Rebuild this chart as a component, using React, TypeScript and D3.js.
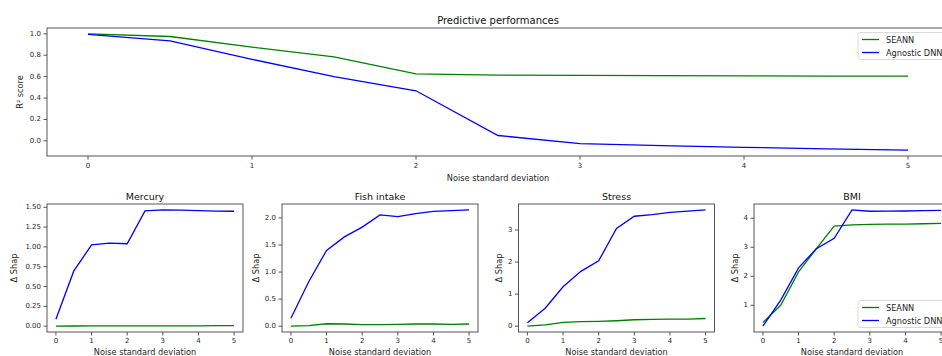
import * as React from 'react'
import { useEffect, useRef } from 'react'
import * as d3 from 'd3'

const noise = [0, 0.5, 1, 1.5, 2, 2.5, 3, 3.5, 4, 4.5, 5]
const xTicks = [0, 1, 2, 3, 4, 5]

// predictive performance (R² score)
const seannR2 = [1.0, 0.975, 0.875, 0.785, 0.625, 0.615, 0.612, 0.609, 0.607, 0.605, 0.604]
const dnnR2 = [0.995, 0.935, 0.762, 0.6, 0.468, 0.05, -0.025, -0.045, -0.06, -0.075, -0.087]

// Δ Shap per feature
const mercurySeann = [0.0, 0.002, 0.003, 0.003, 0.003, 0.004, 0.005, 0.005, 0.005, 0.006, 0.007]
const mercuryDnn = [0.088, 0.694, 1.025, 1.048, 1.04, 1.455, 1.468, 1.465, 1.458, 1.452, 1.45]
const fishSeann = [0.0, 0.01, 0.045, 0.04, 0.03, 0.03, 0.035, 0.04, 0.04, 0.035, 0.04]
const fishDnn = [0.147, 0.82, 1.4, 1.65, 1.83, 2.055, 2.025, 2.08, 2.12, 2.135, 2.15]
const stressSeann = [0.0, 0.04, 0.12, 0.14, 0.15, 0.17, 0.2, 0.21, 0.22, 0.22, 0.24]
const stressDnn = [0.11, 0.56, 1.23, 1.71, 2.04, 3.05, 3.43, 3.48, 3.55, 3.59, 3.63]
const bmiSeann = [0.41, 1.0, 2.15, 2.95, 3.73, 3.77, 3.79, 3.795, 3.8, 3.81, 3.82]
const bmiDnn = [0.28, 1.18, 2.29, 2.95, 3.31, 4.29, 4.24, 4.245, 4.25, 4.26, 4.27]

const seriesNames = ['SEANN', 'Agnostic DNN']
const seriesColors = ['#008000', '#0000ff']

const FONT = 'DejaVu Sans, sans-serif'

interface PanelSpec {
  title: string
  ylabel: string
  left: number
  top: number
  width: number
  height: number
  series: number[][]
  yTicks: number[]
  yFormat: string
  xlabelOffset: number
  tickLabelOffset: number
  legend?: { x: number; y: number }
  titleSize: number
  ylabelX: number
}

const panels: PanelSpec[] = [
  {
    title: 'Predictive performances', ylabel: 'R² score',
    left: 47, top: 28, width: 902, height: 128,
    series: [seannR2, dnnR2], yTicks: [0, 0.2, 0.4, 0.6, 0.8, 1.0], yFormat: '.1f',
    xlabelOffset: 22, tickLabelOffset: 10, legend: { x: 858, y: 32.5 }, titleSize: 10, ylabelX: 20,
  },
  {
    title: 'Mercury', ylabel: 'Δ Shap',
    left: 47, top: 204, width: 196, height: 128,
    series: [mercurySeann, mercuryDnn], yTicks: [0, 0.25, 0.5, 0.75, 1.0, 1.25, 1.5], yFormat: '.2f',
    xlabelOffset: 20, tickLabelOffset: 9, titleSize: 9.5, ylabelX: 14,
  },
  {
    title: 'Fish intake', ylabel: 'Δ Shap',
    left: 282, top: 204, width: 196, height: 128,
    series: [fishSeann, fishDnn], yTicks: [0, 0.5, 1.0, 1.5, 2.0], yFormat: '.1f',
    xlabelOffset: 20, tickLabelOffset: 9, titleSize: 9.5, ylabelX: 256,
  },
  {
    title: 'Stress', ylabel: 'Δ Shap',
    left: 518.5, top: 204, width: 196, height: 128,
    series: [stressSeann, stressDnn], yTicks: [0, 1, 2, 3], yFormat: 'd',
    xlabelOffset: 20, tickLabelOffset: 9, titleSize: 9.5, ylabelX: 499,
  },
  {
    title: 'BMI', ylabel: 'Δ Shap',
    left: 754, top: 204, width: 196, height: 128,
    series: [bmiSeann, bmiDnn], yTicks: [1, 2, 3, 4], yFormat: 'd',
    xlabelOffset: 20, tickLabelOffset: 9, legend: { x: 858, y: 300.5 }, titleSize: 9.5, ylabelX: 735,
  },
]

export default function App() {
  const svgRef = useRef<SVGSVGElement>(null)

  useEffect(() => {
    if (!svgRef.current) return
    const svg = d3.select(svgRef.current)
    svg.selectAll('*').remove()

    panels.forEach(p => {
      const all = p.series.flat()
      const lo = d3.min(all)!
      const hi = d3.max(all)!
      const pad = (hi - lo) * 0.05
      const x = d3.scaleLinear().domain([-0.25, 5.25]).range([p.left, p.left + p.width])
      const y = d3.scaleLinear().domain([lo - pad, hi + pad]).range([p.top + p.height, p.top])

      const g = svg.append('g')

      // lines
      const line = d3.line<number>().x((_, i) => x(noise[i])).y(d => y(d))
      p.series.forEach((s, i) => {
        g.append('path')
          .attr('d', line(s))
          .attr('fill', 'none')
          .attr('stroke', seriesColors[i])
          .attr('stroke-width', 1.3)
      })

      // spines
      g.append('rect')
        .attr('x', p.left).attr('y', p.top)
        .attr('width', p.width).attr('height', p.height)
        .attr('fill', 'none').attr('stroke', '#444').attr('stroke-width', 0.9)

      // x axis
      const xb = p.top + p.height
      xTicks.forEach(t => {
        g.append('line')
          .attr('x1', x(t)).attr('x2', x(t)).attr('y1', xb).attr('y2', xb + 3.5)
          .attr('stroke', '#444').attr('stroke-width', 0.9)
        g.append('text')
          .attr('x', x(t)).attr('y', xb + p.tickLabelOffset)
          .attr('text-anchor', 'middle').attr('dominant-baseline', 'central')
          .attr('font-size', 7).attr('fill', '#262626').attr('font-family', FONT)
          .text(String(t))
      })
      g.append('text')
        .attr('x', p.left + p.width / 2).attr('y', xb + p.xlabelOffset)
        .attr('text-anchor', 'middle').attr('dominant-baseline', 'central')
        .attr('font-size', 8.2).attr('fill', '#262626').attr('font-family', FONT)
        .text('Noise standard deviation')

      // y axis
      const fmt = d3.format(p.yFormat)
      p.yTicks.forEach(t => {
        g.append('line')
          .attr('x1', p.left - 3.5).attr('x2', p.left).attr('y1', y(t)).attr('y2', y(t))
          .attr('stroke', '#444').attr('stroke-width', 0.9)
        g.append('text')
          .attr('x', p.left - 6).attr('y', y(t))
          .attr('text-anchor', 'end').attr('dominant-baseline', 'central')
          .attr('font-size', 7).attr('fill', '#262626').attr('font-family', FONT)
          .text(fmt(t))
      })
      g.append('text')
        .attr('transform', `translate(${p.ylabelX}, ${p.top + p.height / 2}) rotate(-90)`)
        .attr('text-anchor', 'middle').attr('dominant-baseline', 'central')
        .attr('font-size', 8.2).attr('fill', '#262626').attr('font-family', FONT)
        .text(p.ylabel)

      // title
      g.append('text')
        .attr('x', p.left + p.width / 2).attr('y', p.top - 8)
        .attr('text-anchor', 'middle').attr('dominant-baseline', 'central')
        .attr('font-size', p.titleSize).attr('fill', '#111').attr('font-family', FONT)
        .text(p.title)

      // legend
      if (p.legend) {
        const lg = g.append('g').attr('transform', `translate(${p.legend.x}, ${p.legend.y})`)
        lg.append('rect')
          .attr('x', 0).attr('y', 0).attr('width', 100).attr('height', 27)
          .attr('rx', 2).attr('fill', '#fff').attr('fill-opacity', 0.85)
          .attr('stroke', '#d0d0d0').attr('stroke-width', 0.8)
        seriesNames.forEach((name, i) => {
          const yy = 7 + i * 13
          lg.append('line')
            .attr('x1', 4).attr('x2', 21).attr('y1', yy).attr('y2', yy)
            .attr('stroke', seriesColors[i]).attr('stroke-width', 1.3)
          lg.append('text')
            .attr('x', 28).attr('y', yy)
            .attr('dominant-baseline', 'central')
            .attr('font-size', 8.2).attr('fill', '#262626').attr('font-family', FONT)
            .text(name)
        })
      }
    })
  }, [])

  return (
    <svg
      ref={svgRef}
      width={942}
      height={356}
      style={{ position: 'absolute', left: 0, top: 0, background: '#fff' }}
    />
  )
}
